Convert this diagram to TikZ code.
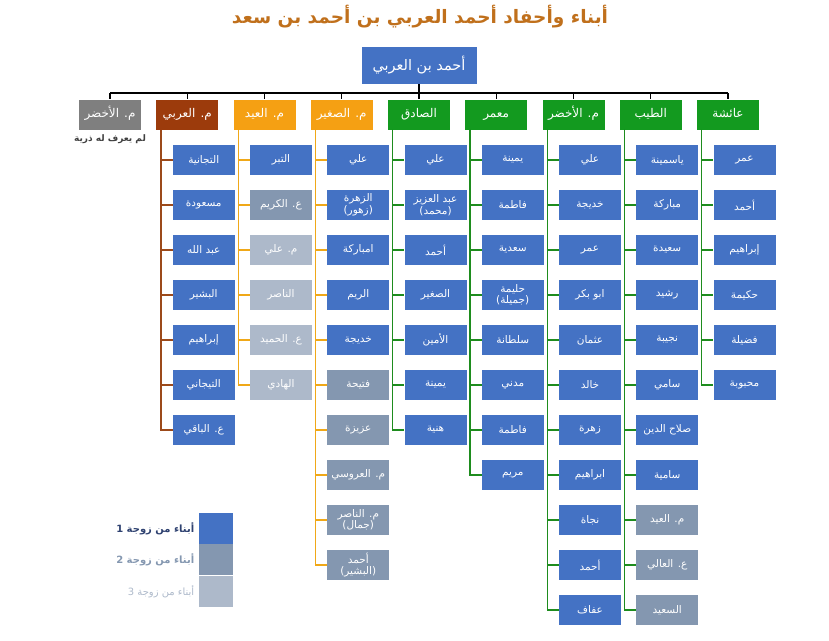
\documentclass[tikz,border=0pt]{standalone}
\usepackage{fontspec}
\usetikzlibrary{positioning}
\TeXXeTstate=1
\newfontfamily\arabicfont[Script=Arabic]{DejaVu Sans}

\definecolor{wife1}{HTML}{4472C4}
\definecolor{wife2}{HTML}{8497B0}
\definecolor{wife3}{HTML}{ADB9CA}
\definecolor{sonGreen}{HTML}{139A1F}
\definecolor{sonBrown}{HTML}{9C3B0C}
\definecolor{sonOrange}{HTML}{F5A013}
\definecolor{sonGray}{HTML}{7F7F7F}
\definecolor{wireGreen}{HTML}{1E8C1E}
\definecolor{wireBrown}{HTML}{9C4A1A}
\definecolor{wireOrange}{HTML}{F0A818}
\definecolor{titleColor}{HTML}{C0701C}
\definecolor{legendText}{HTML}{2E4170}

% line break inside a right-to-left label
\newcommand{\arbreak}{\endR\\\beginR}
% children of one son: #1 column, #2 wire colour, #3 shade/name list
\newcommand{\sonsof}[3]{%
  \foreach \w/\name [count=\k] in {#3} {
    \node[kid=wife\w] (c#1-\k) at ({126.5+77.25*#1},{115+45*\k}) {\beginR\name\endR};
    \draw[wire=#2] ([xshift=5pt]p#1.south west) |- (c#1-\k.west);
  }}

\begin{document}
\begin{tikzpicture}[x=1pt, y=-1pt,
  every node/.style={font=\arabicfont},
  root/.style={fill=wife1, text=white, minimum width=115pt, minimum height=37pt,
    font=\arabicfont\fontsize{14.5}{16}\selectfont},
  son/.style={fill=#1, text=white, minimum width=62pt, minimum height=30pt, inner sep=1pt,
    text height=9pt, text depth=3pt, font=\arabicfont\fontsize{12}{14}\selectfont},
  kid/.style={fill=#1, text=white, minimum width=62pt, minimum height=30pt, inner sep=1pt,
    align=center, font=\arabicfont\fontsize{10.5}{11.5}\selectfont},
  wire/.style={draw=#1, line width=1.2pt},
  bus/.style={draw=black, line width=1.3pt},
  legbox/.style={fill=#1, minimum width=34pt, minimum height=31pt, inner sep=0pt}]
  \useasboundingbox (0,0) rectangle (829,640);

  % Title
  \node[text=titleColor, font=\arabicfont\bfseries\fontsize{18.5}{20}\selectfont] (title) at (420,17)
    {\beginR أبناء وأحفاد أحمد العربي بن أحمد بن سعد\endR};

  % Root
  \node[root] (root) at (419,65.5) {\beginR أحمد بن العربي\endR};
  \coordinate (bus) at (419,93);

  % Sons and daughters
  \foreach \lbl/\clr [count=\i from 0] in {م. الأخضر/sonGray, م. العربي/sonBrown, م. العيد/sonOrange,
      م. الصغير/sonOrange, الصادق/sonGreen, معمر/sonGreen, م. الأخضر/sonGreen, الطيب/sonGreen, عائشة/sonGreen}
    \node[son=\clr] (p\i) at ({110+77.25*\i},114.5) {\beginR\lbl\endR};
  \node[below=1pt of p0, text=black!75, font=\arabicfont\bfseries\fontsize{9}{10}\selectfont] (note)
    {\beginR لم يعرف له ذرية\endR};

  % Connectors from the root
  \draw[bus] (root.south) -- (bus);
  \draw[bus] (p0.north |- bus) -- (p8.north |- bus);
  \foreach \i in {0,...,8}
    \draw[bus] (p\i.north |- bus) -- (p\i.north);

  % Grandchildren
  \sonsof{1}{wireBrown}{1/التجانية, 1/مسعودة, 1/عبد الله, 1/البشير, 1/إبراهيم, 1/التيجاني, 1/ع. الباقي}
  \sonsof{2}{wireOrange}{1/التبر, 2/ع. الكريم, 3/م. علي, 3/الناصر, 3/ع. الحميد, 3/الهادي}
  \sonsof{3}{wireOrange}{1/علي, 1/الزهرة\arbreak(زهور), 1/امباركة, 1/الريم, 1/خديجة,
    2/فتيحة, 2/عزيزة, 2/م. العروسي, 2/م. الناصر\arbreak(جمال), 2/أحمد\arbreak(البشير)}
  \sonsof{4}{wireGreen}{1/علي, 1/عبد العزيز\arbreak(محمد), 1/أحمد, 1/الصغير, 1/الأمين, 1/يمينة, 1/هنية}
  \sonsof{5}{wireGreen}{1/يمينة, 1/فاطمة, 1/سعدية, 1/حليمة\arbreak(جميلة), 1/سلطانة, 1/مدني, 1/فاطمة, 1/مريم}
  \sonsof{6}{wireGreen}{1/علي, 1/خديجة, 1/عمر, 1/ابو بكر, 1/عثمان, 1/خالد, 1/زهرة, 1/ابراهيم,
    1/نجاة, 1/أحمد, 1/عفاف}
  \sonsof{7}{wireGreen}{1/ياسمينة, 1/مباركة, 1/سعيدة, 1/رشيد, 1/نجيبة, 1/سامي, 1/صلاح الدين, 1/سامية,
    2/م. العيد, 2/ع. العالي, 2/السعيد}
  \sonsof{8}{wireGreen}{1/عمر, 1/أحمد, 1/إبراهيم, 1/حكيمة, 1/فضيلة, 1/محبوبة}

  % Legend
  \node[legbox=wife1] (leg1) at (216,528.5) {};
  \node[legbox=wife2, below=0pt of leg1] (leg2) {};
  \node[legbox=wife3, below=0pt of leg2] (leg3) {};
  \node[left=1pt of leg1, text=legendText, font=\arabicfont\bfseries\fontsize{10}{12}\selectfont]
    (lab1) {\beginR أبناء من زوجة 1\endR};
  \node[left=1pt of leg2, text=wife2, font=\arabicfont\bfseries\fontsize{10}{12}\selectfont]
    (lab2) {\beginR أبناء من زوجة 2\endR};
  \node[left=1pt of leg3, text=wife3, font=\arabicfont\fontsize{10}{12}\selectfont]
    (lab3) {\beginR أبناء من زوجة 3\endR};
\end{tikzpicture}
\end{document}
